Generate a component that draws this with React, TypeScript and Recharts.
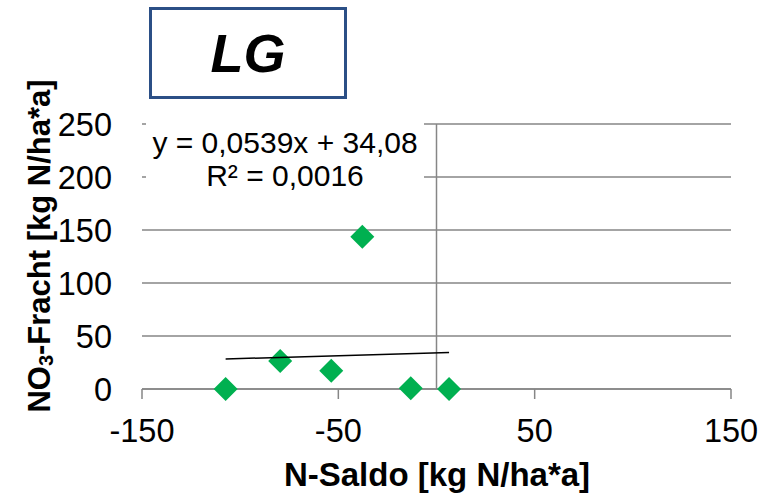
import {
  CartesianGrid,
  ReferenceLine,
  Scatter,
  ScatterChart,
  XAxis,
  YAxis,
} from "recharts";

// N-Saldo vs NO3-Fracht, site LG
const saldo = [-107.4, -79.6, -53.6, -37.8, -13.1, 6.4];
const fracht = [0, 26.4, 17.3, 143.7, 0.6, 0];
const trendX = [-107.4, 6.4];
const trendY = [28.3, 34.4];
const xTicks = [-150, -50, 50, 150];
const yTicks = [0, 50, 100, 150, 200, 250];

const points = saldo.map((x, i) => ({ x, y: fracht[i] }));
const trend = trendX.map((x, i) => ({ x, y: trendY[i] }));

const font = "'Liberation Sans', Arial, sans-serif";
const grey = "#868686";

const Diamond = (props: any) => {
  const { cx, cy } = props;
  const r = 12;
  return (
    <path
      d={`M${cx},${cy - r}L${cx + r},${cy}L${cx},${cy + r}L${cx - r},${cy}Z`}
      fill="#00B050"
    />
  );
};

const YTitle = () => (
  <text
    x={39}
    y={246}
    transform="rotate(-90, 39, 246)"
    textAnchor="middle"
    dominantBaseline="central"
    fontFamily={font}
    fontWeight="bold"
    fontSize={31}
    fill="#000"
  >
    NO
    <tspan dy={7} fontSize={20}>
      3
    </tspan>
    <tspan dy={-7}>-Fracht [kg N/ha*a]</tspan>
  </text>
);

const XTitle = () => (
  <text
    x={437}
    y={486}
    textAnchor="middle"
    fontFamily={font}
    fontWeight="bold"
    fontSize={33}
    fill="#000"
  >
    N-Saldo [kg N/ha*a]
  </text>
);

export default function App() {
  return (
    <div
      style={{
        position: "absolute",
        left: 0,
        top: 0,
        width: 772,
        height: 495,
        background: "#fff",
        fontFamily: font,
      }}
    >
      <ScatterChart
        width={772}
        height={495}
        margin={{ top: 124, right: 41, bottom: 0, left: 0 }}
      >
        <CartesianGrid vertical={false} stroke={grey} strokeWidth={1.5} />
        <XAxis
          type="number"
          dataKey="x"
          domain={[-150, 150]}
          ticks={xTicks}
          height={106}
          stroke={grey}
          strokeWidth={1.5}
          tickSize={10}
          tickMargin={20}
          tick={{ fill: "#000", fontSize: 32.5, fontFamily: font }}
          label={{ content: () => <XTitle /> }}
        />
        <YAxis
          type="number"
          dataKey="y"
          domain={[0, 250]}
          ticks={yTicks}
          width={142}
          axisLine={false}
          tickLine={false}
          tickSize={0}
          tickMargin={30}
          tick={{ fill: "#000", fontSize: 32.5, fontFamily: font }}
          label={{ content: () => <YTitle /> }}
        />
        <ReferenceLine x={0} stroke={grey} strokeWidth={1.5} />
        <Scatter
          data={points}
          shape={Diamond}
          isAnimationActive={false}
        />
        <Scatter
          data={trend}
          line={{ stroke: "#000", strokeWidth: 1.5 }}
          shape={() => <g />}
          isAnimationActive={false}
        />
      </ScatterChart>
      <div
        style={{
          position: "absolute",
          left: 149,
          top: 7,
          width: 198,
          height: 92,
          boxSizing: "border-box",
          border: "3px solid #2B4F86",
          background: "#fff",
          display: "flex",
          alignItems: "center",
          justifyContent: "center",
          fontWeight: "bold",
          fontStyle: "italic",
          fontSize: 54,
          color: "#000",
        }}
      >
        LG
      </div>
      <div
        style={{
          position: "absolute",
          left: 146,
          top: 118,
          width: 278,
          height: 76,
          background: "#fff",
          textAlign: "center",
          fontSize: 30,
          lineHeight: "33px",
          color: "#000",
          paddingTop: 8,
          boxSizing: "border-box",
        }}
      >
        <div>y = 0,0539x + 34,08</div>
        <div>R² = 0,0016</div>
      </div>
    </div>
  );
}
